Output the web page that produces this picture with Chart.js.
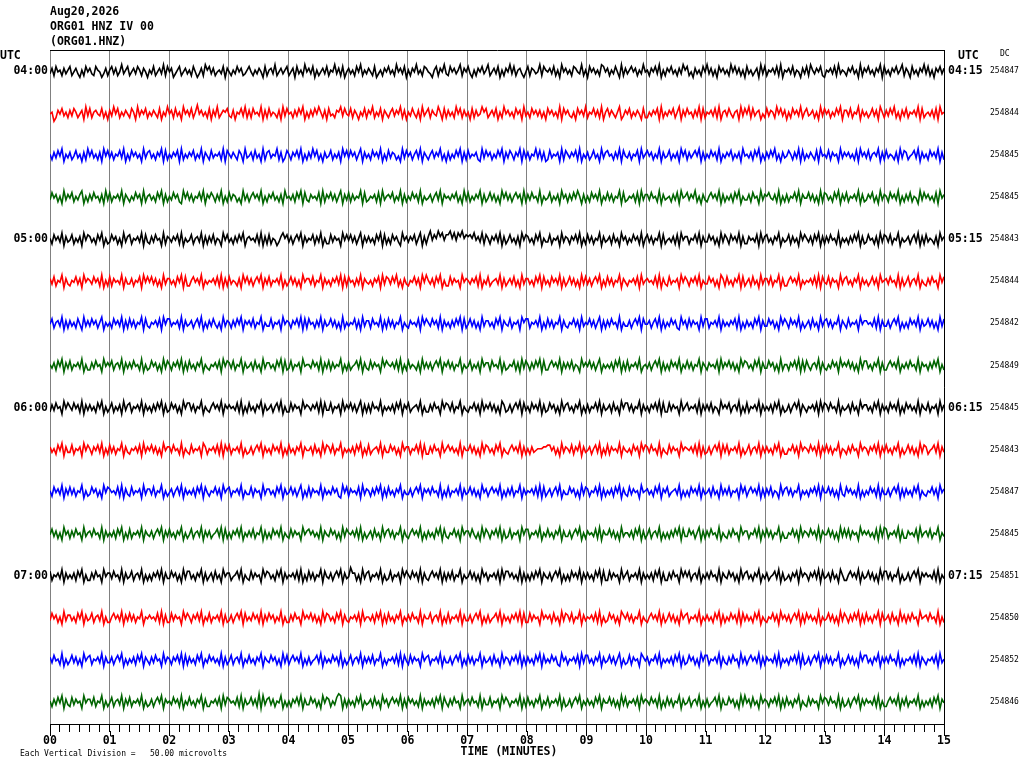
<!DOCTYPE html>
<html>
<head>
<meta charset="utf-8">
<script src="https://cdn.jsdelivr.net/npm/chart.js"></script>
<style>
html, body { margin: 0; padding: 0; background: #fff; overflow: hidden; }
canvas { display: block; }
</style>
</head>
<body>
<canvas id="heli" width="1024" height="768"></canvas>
<script>
// header text and labels
const headerLines = ['Aug20,2026', 'ORG01 HNZ IV 00', '(ORG01.HNZ)'];
const minuteLabels = ['00','01','02','03','04','05','06','07','08','09','10','11','12','13','14','15'];
const startTimes = ['04:00','','','','05:00','','','','06:00','','','','07:00','','',''];
const endTimes = ['04:15','','','','05:15','','','','06:15','','','','07:15','','',''];
const dcOffsets = [254847, 254844, 254845, 254845, 254843, 254844, 254842, 254849,
                   254845, 254843, 254847, 254845, 254851, 254850, 254852, 254846];
const traceColors = ['#000000', '#ff0000', '#0000ff', '#006400'];
const scaleNote = 'Each Vertical Division =   50.00 microvolts';

// one string per 15 minute line, one digit per sample (4.5 = trace centre)
const traceSamples = [
  ['36274526357246315274632754136257362483572463752641',
   '53724638274613572463527413628573624537164253746235',
   '74253641725638246357246173528463715246372548362714',
   '63527482536427135264735284637152648352764315726483',
   '27463582647315264735824637152648372563147265348275',
   '46372518463527643825174635287462537418263574625384',
   '52647381526473526385724163527483625174635284736251',
   '73524618372546372815463725416372853647215463728354',
   '26473518264735264817352647358264173526483725164736'].join(''),
  ['45026473526375246183725643725163847253642751836472',
   '53642715384627351846372594635271638246573261547382',
   '62745381627354261837452637481526374852617342658374',
   '37264153726482537164257364826153742618357264385172',
   '63528472635172634857246371528463527461835274636251',
   '74635281746325174638254736281573642581364725364172',
   '25364718253647258163745263817254637281563742561837',
   '48273561427365284736152746382573462518374625374816',
   '63725481635247361852637482516372546381724536271845'].join(''),
  ['52637481536247351628473526184736254738152746351836',
   '73526481725364718253647253816427354628175364275183',
   '46273518267354826137526473815263847251634725361847',
   '37462581635274638152736524183746257381642573648251',
   '62537481627354621837462537481637526481736254837261',
   '27354618275364728153624735183674526381743625471835',
   '74625381634725361847263574816253746281536472536184',
   '53627481526374825163475263817253642718453726451836',
   '46352718463725648162735426183762457381635274638162'].join(''),
  ['37462518364725368152637452618372546381642537461825',
   '63527481625374621847362547381647526381527365241836',
   '25746381526473526184536274817326453718264736258163',
   '72635481723546271835647253816253746281534625738164',
   '53647251837253648162473625184736257461826374528153',
   '47253618462637485162527463815373625481723546271836',
   '63745281634526371845736482516325746381625362748153',
   '36274518365743628152625473816447362518276352748163',
   '72546381623647251836527463815263725418374635271846'].join(''),
  ['52746381634725361847635274815237462518367254638173',
   '26374518265364728153472563816263725418473526374815',
   '64537281627254136857362574816354726381522736451847',
   '47362581636352748172527463184636472581626947596847',
   '79584869576758463827526473816247352618476352748153',
   '37254618365264738152736254816346273518462537462815',
   '73625481724536271846625473816337462518375274638162',
   '26453718367352648153472635184753627481626374528153',
   '52637481623745261837637254815346257381627354261846'].join(''),
  ['63725481632547361846537462815272645381633625471847',
   '47362518366352748172257463815354637281627354261847',
   '36257481637254638152473625184663725481635264738172',
   '74526381643526471837637482516325473618485362748152',
   '27364518465364728153724563816246372518366352748173',
   '52746381624736251837362574815273625481642546371835',
   '64537281632735461847526473815337462518627352648172',
   '46273518366372548162257463815354637281743726451836',
   '73526481635247361845637452816247256381532637451847'].join(''),
  ['47256381626352741836374625815352746381627362548173',
   '25463718477354628163462573815263742518365263748164',
   '63725481533725461846526473817274526381634736251825',
   '35472618366274538162736254815326453718475374628163',
   '52637481724736251836635274816437254618577254638152',
   '73625481632547361835473625816263745281533625748174',
   '46257381625374621846273645183772546381635364728152',
   '63527481633746251847527463815246273518367362548164',
   '27354618466453728163362574815252746381634736251837'].join(''),
  ['53627481637254638152263745184647256381636374528152',
   '37462518375264738162735264815325463718476372548163',
   '46273518366352748172372546184553746281637263548152',
   '62457381632736451847546372815273542618363625748164',
   '73625481534725361846627453816235472618375263748172',
   '25746381636372541846473625815353627481627254638145',
   '36257481625274638153736254816426453718364736251847',
   '63527481633746251825526473817274256381632537461846',
   '47362518377352648162257463815363745281645263748152'].join(''),
  ['26374518475374628163635274815247253618367254638163',
   '52637481623746251847736254815325746381646453728152',
   '73526481634625738152273645184653647281733725461836',
   '47362581626274538153536274816472456381522637451847',
   '63725481532547361836473625186236257481735274638162',
   '37462518367352648152625473816346273518477362548163',
   '52647381722736451835735462816363725418464725638152',
   '72546381635362748152362574816425463718376374528153',
   '46273518466352748163527463815274635281643725461836'].join(''),
  ['63527481633725461847526473815273625481632546371836',
   '47362518466374528153273546186254637281747254638152',
   '36257481635274638152735264816446273518376372548153',
   '53627481527245638163374625184662547381722637451835',
   '74635281644736251837635274815325746381625263455566',
   '77462518365372648163462573815272645381643527461847',
   '63745281532736451846546372816236257481737254638152',
   '47256381636352748152254736184653746281637362548154',
   '26374518465264738163735264815247362518376245738163'].join(''),
  ['52746381637362548152374625184764537281632735461836',
   '63725481524625738163536274817425473618467254638153',
   '37264518366352748163473625815272645381635374621847',
   '26453718365263748162735264815336257481646374528152',
   '72546381634736251846257463815263725481635463728172',
   '46257381533746251837625473816253627481632736451845',
   '63527481647245638152527463816346273518363725461847',
   '25746381626372541836736254815352647381744736251832',
   '74635281525374628163362574816263527481532547361846'].join(''),
  ['47362518462637451835637452816353627481527254638164',
   '36257481637352648152472563816362457381725264738153',
   '63725481625274638153273645184674635281643746251837',
   '54637281524627351836736254816325746381526352748173',
   '25473618466374251837526473816237254618477254638153',
   '73526481633625748152645372816447362518355362748162',
   '47256381525263748173374625816263745281532637451846',
   '62547381637362548152254736183653746281644736251837',
   '37264518464635271838725463816226453718356372548153'].join(''),
  ['72546381635362748152263745184663745281634725638152',
   '52647381633746251837735264816246273518466245738153',
   '27364518476352748163546372815273625481743625748163',
   '49662518367254638152372546184753746281632574638162',
   '63725481534736251846254637183774635281625263748164',
   '36257481525274638163635274817227364518357254638163',
   '53627481622637451847472563815363745281643746251836',
   '73526481536245738162352647184652647381734627351852',
   '25746381634736251837736254815236257481646453728153'].join(''),
  ['37462518366352748163472563815225746381637362548154',
   '64537281622736451847526473815372546381623625748173',
   '53746281637462538152263745184647362518376352748163',
   '25463718355362748162735264815363745281644725638152',
   '72546381633625748152624573816352647381722736451846',
   '46273518376372548163546372815237462518647362548153',
   '25746381624736251846725463815363527481625374628173',
   '63527481532547361846362574816274635281534736251837',
   '52637481627352648173462735183626374518456374528152'].join(''),
  ['63745281524736251846725463816336257481525362748164',
   '26374518365264738172635274815374635281624725638153',
   '73526481643746251837257463815262457381635374628152',
   '47256381636372548152546372817427364518467254638163',
   '36257481527362548163462735183652647381626352748173',
   '53746218462546371837735264816347362581523726451864',
   '62547381535362748162374625184772546381632637451836',
   '25746381626453728153526473817236257481637362548152',
   '47362518477352648163637452815254637281642546371835'].join(''),
  ['52637481632736451846637254815247256381637254638152',
   '36257481645374628153735264816225463718376453728163',
   '47362918367362548152526473816337462518476253798162',
   '63527481534627351846257463816274635281635362748174',
   '26374518356374528163372546184752546381627352648153',
   '72546381623625748153635274816447362518372546371846',
   '53746281527362548163472563815262457381633746251838',
   '46273518465264738162735264815327364518476374528162',
   '36257481636453728152257463816372546381525362748164'].join('')
];

const AMP = 0.043;   // trace spacing units per sample step
const MONO = '"DejaVu Sans Mono", "Liberation Mono", monospace';

const datasets = traceSamples.map((s, i) => {
  const n = s.length;
  const base = 15 - i;
  return {
    data: Array.from(s, (c, j) => ({ x: j * 15 / (n - 1), y: base + (Number(c) - 4.5) * AMP })),
    borderColor: traceColors[i % 4],
    borderWidth: 1.6,
    pointRadius: 0,
    tension: 0,
    fill: false
  };
});

const isWhole = v => Math.abs(v - Math.round(v)) < 1e-6;

// extra texts: header, UTC, DC, axis title, scale note, longer minute ticks
const textPlugin = {
  id: 'heliTexts',
  afterDraw(chart) {
    const ctx = chart.ctx;
    const xs = chart.scales.x;
    ctx.save();
    ctx.fillStyle = '#000';
    ctx.textBaseline = 'middle';
    ctx.font = 'bold 11.5px ' + MONO;
    ctx.textAlign = 'left';
    headerLines.forEach((t, i) => ctx.fillText(t, 50, 12 + i * 15));
    ctx.fillText('UTC', 0, 56);
    ctx.fillText('UTC', 958, 56);
    ctx.textAlign = 'center';
    ctx.fillText('TIME (MINUTES)', 509, 752);
    ctx.font = '8px ' + MONO;
    ctx.textAlign = 'left';
    ctx.fillText('DC', 1000, 54);
    ctx.fillText(scaleNote, 20, 754);
    ctx.strokeStyle = '#000';
    ctx.lineWidth = 1;
    minuteLabels.forEach((l, m) => {
      const px = Math.round(xs.getPixelForValue(m)) + 0.5;
      ctx.beginPath();
      ctx.moveTo(px, xs.top + 7);
      ctx.lineTo(px, xs.top + 12);
      ctx.stroke();
    });
    ctx.restore();
  }
};

new Chart(document.getElementById('heli').getContext('2d'), {
  type: 'line',
  data: { datasets },
  options: {
    responsive: false,
    animation: false,
    devicePixelRatio: 1,
    events: [],
    layout: { padding: { top: 50, left: 0, right: 0, bottom: 0 } },
    plugins: { legend: { display: false }, tooltip: { enabled: false } },
    scales: {
      x: {
        type: 'linear', position: 'bottom', min: 0, max: 15,
        afterBuildTicks: s => {
          const t = [];
          for (let k = 0; k <= 90; k++) t.push({ value: k / 6 });
          s.ticks = t;
        },
        ticks: {
          autoSkip: false, maxRotation: 0, padding: 2, color: '#000',
          font: { family: MONO, weight: 'bold', size: 11.5 },
          callback: v => isWhole(v) ? minuteLabels[Math.round(v)] : ''
        },
        grid: {
          color: c => (c.tick && isWhole(c.tick.value)) ? '#808080' : 'rgba(0,0,0,0)',
          tickColor: '#000', tickLength: 8, lineWidth: 1
        },
        border: { color: '#000', z: 1 },
        afterFit: s => { s.height = 44; }
      },
      xTop: {
        type: 'linear', position: 'top', min: 0, max: 15,
        ticks: { display: false },
        grid: { display: false, drawTicks: false },
        border: { display: true, color: '#000', z: 1 },
        afterFit: s => { s.height = 0; }
      },
      y: {
        type: 'linear', position: 'left', min: -0.523, max: 15.5,
        afterBuildTicks: s => { s.ticks = startTimes.map((t, i) => ({ value: 15 - i })); },
        ticks: {
          autoSkip: false, padding: 2, color: '#000',
          font: { family: MONO, weight: 'bold', size: 11.5 },
          callback: v => startTimes[Math.round(15 - v)]
        },
        grid: { display: false, drawTicks: false },
        border: { display: true, color: '#808080' },
        afterFit: s => { s.width = 50; }
      },
      yEnd: {
        type: 'linear', position: 'right', weight: 0, min: -0.523, max: 15.5,
        afterBuildTicks: s => { s.ticks = endTimes.map((t, i) => ({ value: 15 - i })); },
        ticks: {
          autoSkip: false, padding: 4, color: '#000',
          font: { family: MONO, weight: 'bold', size: 11.5 },
          callback: v => endTimes[Math.round(15 - v)]
        },
        grid: { display: false, drawTicks: false },
        border: { display: true, color: '#000', z: 1 },
        afterFit: s => { s.width = 46; }
      },
      yDc: {
        type: 'linear', position: 'right', weight: 1, min: -0.523, max: 15.5,
        afterBuildTicks: s => { s.ticks = dcOffsets.map((d, i) => ({ value: 15 - i })); },
        ticks: {
          autoSkip: false, padding: 0, color: '#000',
          font: { family: MONO, size: 8 },
          callback: v => String(dcOffsets[Math.round(15 - v)])
        },
        grid: { display: false, drawTicks: false },
        border: { display: false },
        afterFit: s => { s.width = 34; }
      }
    }
  },
  plugins: [textPlugin]
});
</script>
</body>
</html>
